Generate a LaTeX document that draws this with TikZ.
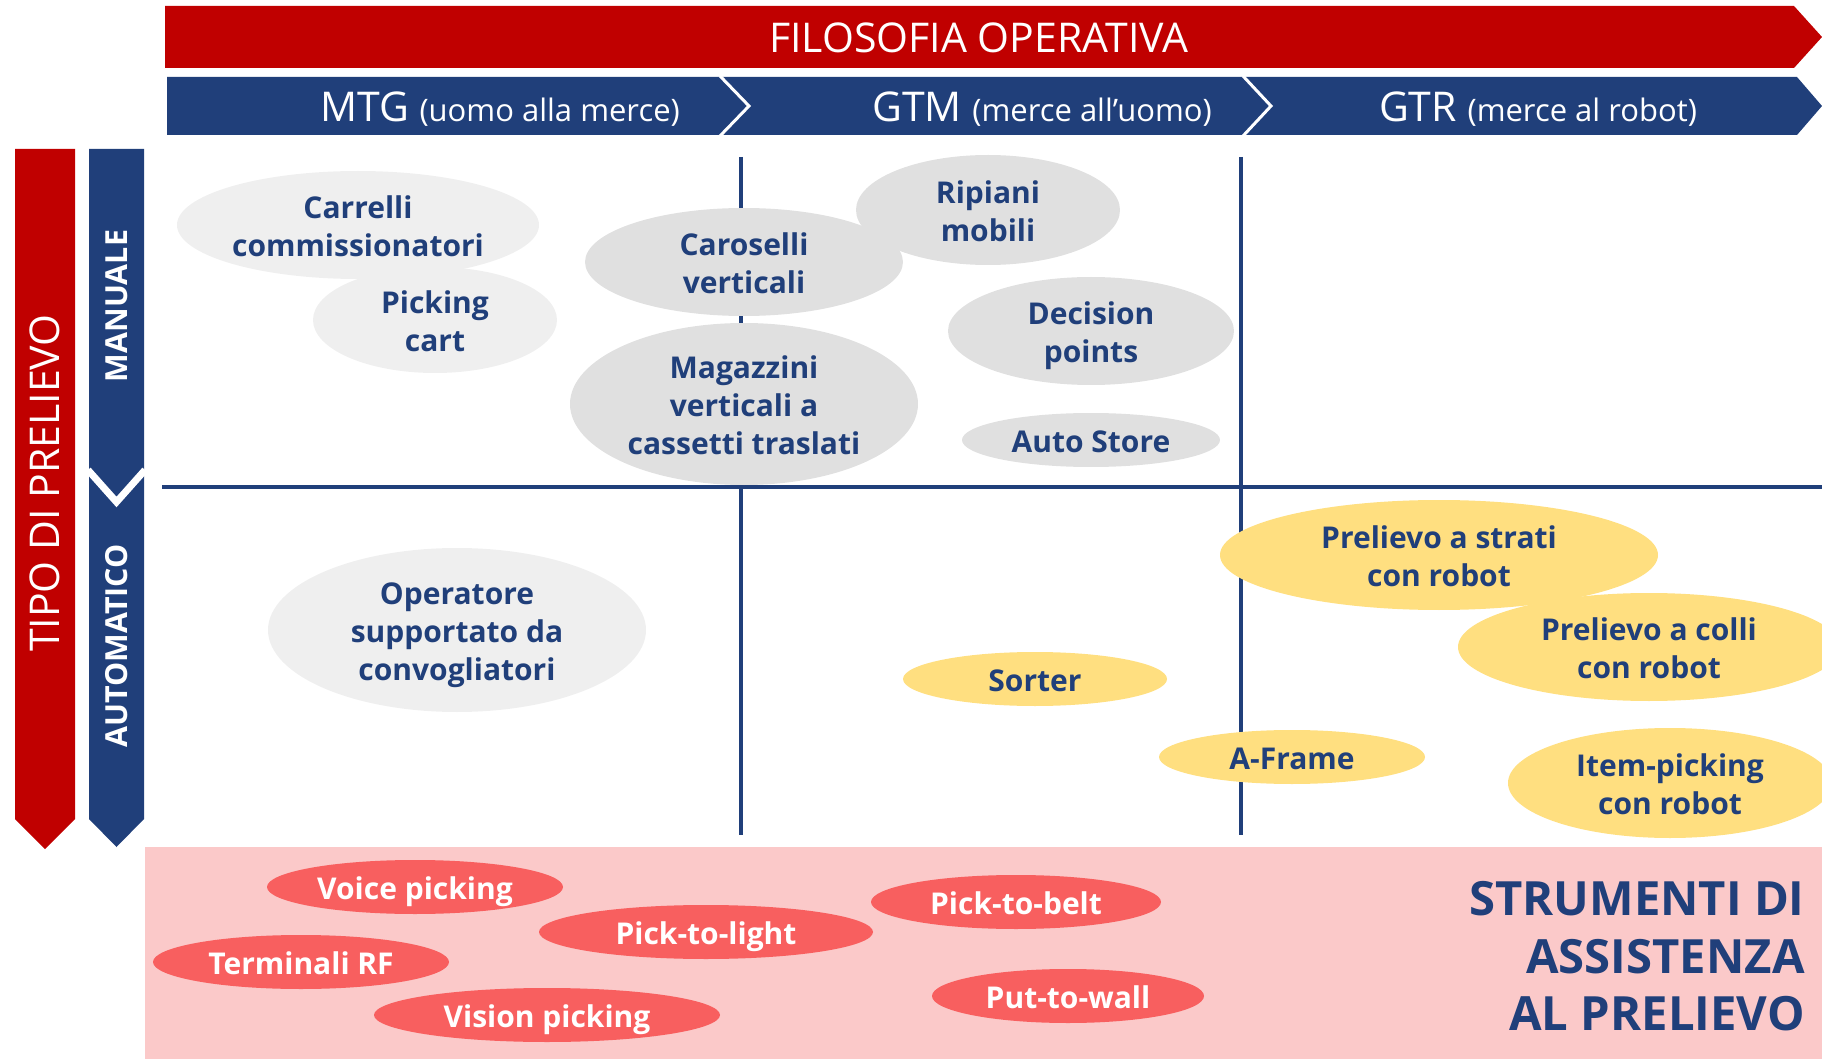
\documentclass[tikz,border=0pt]{standalone}
\usepackage{fontspec}
\setmainfont{Open Sans}
\usetikzlibrary{shapes.geometric}

\definecolor{navy}{HTML}{203F7A}
\definecolor{brick}{HTML}{C00000}
\definecolor{sand}{HTML}{FFDF80}
\definecolor{coral}{HTML}{F85F5F}
\definecolor{blush}{HTML}{FBC9C9}
\definecolor{paleA}{HTML}{EFEFEF}
\definecolor{paleB}{HTML}{E0E0E0}

\tikzset{
  blob/.style={ellipse, inner sep=0pt, draw=none},
  lgray/.style={blob, fill=paleA},
  mgray/.style={blob, fill=paleB},
  gold/.style={blob, fill=sand},
  tool/.style={blob, fill=coral},
  itemtext/.style={text=navy, font=\fontsize{15}{19}\selectfont\bfseries, align=center, inner sep=0pt, yshift=-2.5pt},
  tooltext/.style={itemtext, text=white},
  headtext/.style={text=white, font=\fontsize{20.5}{24}\selectfont, inner sep=0pt, anchor=base},
  sidetext/.style={text=white, font=\fontsize{15.2}{18}\selectfont\bfseries, inner sep=0pt, anchor=base, rotate=90},
  bigtext/.style={text=navy, font=\fontsize{23.6}{28}\selectfont\bfseries, inner sep=0pt, anchor=base east},
  gridline/.style={navy, line width=1.75pt},
  splitline/.style={white, line width=#1, line join=miter},
}

% ellipse with its caption: shape style, text style, name, x, y, rx, ry, text
\newcommand{\blobnode}[8]{%
  \node[#1, minimum width=#6pt, minimum height=#7pt] (#3) at (#4,#5) {};
  \node[#2] (#3-label) at (#3.center) {\strut#8\strut};
}

\begin{document}
\begin{tikzpicture}[x=0.5pt, y=-0.5pt]
\useasboundingbox (0,0) rectangle (1822,1059);

% assistance tools band
\fill[blush] (145,847) rectangle (1822,1059);

% operating philosophy arrow
\fill[brick] (165,6) -- (1794,6) -- (1822,37) -- (1794,68) -- (165,68) -- cycle;
\node[headtext] (filo) at (979,53) {FILOSOFIA OPERATIVA};

% three-step process band
\fill[navy] (167,77) -- (1797,77) -- (1822,106) -- (1797,135) -- (167,135) -- cycle;
\draw[splitline=1.5pt] (720,76) -- (749,106) -- (720,136);
\draw[splitline=1.5pt] (1243,76) -- (1271,106) -- (1243,136);
\node[headtext] (mtg) at (500,122) {MTG {\fontsize{15.5}{18}\selectfont (uomo alla merce)}};
\node[headtext] (gtm) at (1042,122) {GTM {\fontsize{15.5}{18}\selectfont (merce all’uomo)}};
\node[headtext] (gtr) at (1538,122) {GTR {\fontsize{15.5}{18}\selectfont (merce al robot)}};

% picking type bar
\fill[brick] (15,149) -- (75,149) -- (75,819) -- (45,849) -- (15,819) -- cycle;
\node[headtext, rotate=90] (tipo) at (60,483) {TIPO DI PRELIEVO};

% manual / automatic bar
\fill[navy] (89,149) -- (144,149) -- (144,819) -- (116.5,847) -- (89,819) -- cycle;
\draw[splitline=3.5pt] (88,470) -- (116.5,502) -- (145,470);
\node[sidetext] (manuale) at (127,306) {MANUALE};
\node[sidetext] (auto) at (127,646) {AUTOMATICO};

% grid
\draw[gridline, line width=2pt] (162,487) -- (1822,487);
\draw[gridline] (741,157) -- (741,835);
\draw[gridline] (1241,157) -- (1241,835);

% manual systems
\blobnode{lgray}{itemtext}{carrelli}{358}{225}{181}{54}{Carrelli\\commissionatori}
\blobnode{lgray}{itemtext}{cart}{435}{320}{122}{53}{Picking\\cart}
\blobnode{mgray}{itemtext}{ripiani}{988}{210}{132}{55}{Ripiani\\mobili}
\blobnode{mgray}{itemtext}{caroselli}{744}{262}{159}{54}{Caroselli\\verticali}
\blobnode{mgray}{itemtext}{magazzini}{744}{404}{174}{81}{Magazzini\\verticali a\\cassetti traslati}
\blobnode{mgray}{itemtext}{decision}{1091}{331}{143}{54}{Decision\\points}
\blobnode{mgray}{itemtext}{autostore}{1091}{440}{129}{27}{Auto Store}

% automatic systems
\blobnode{lgray}{itemtext}{operatore}{457}{630}{189}{82}{Operatore\\supportato da\\convogliatori}
\blobnode{gold}{itemtext}{colli}{1649}{647}{191}{54}{Prelievo a colli\\con robot}
\blobnode{gold}{itemtext}{strati}{1439}{555}{219}{55}{Prelievo a strati\\con robot}
\blobnode{gold}{itemtext}{sorter}{1035}{679}{132}{27}{Sorter}
\blobnode{gold}{itemtext}{aframe}{1292}{757}{133}{27}{A-Frame}
\blobnode{gold}{itemtext}{itempick}{1670}{783}{162}{55}{Item-picking\\con robot}

% assistance tools
\blobnode{tool}{tooltext}{voice}{415}{887}{148}{27}{Voice picking}
\blobnode{tool}{tooltext}{light}{706}{932}{167}{27}{Pick-to-light}
\blobnode{tool}{tooltext}{rf}{301}{962}{148}{27}{Terminali RF}
\blobnode{tool}{tooltext}{vision}{547}{1015}{173}{27}{Vision picking}
\blobnode{tool}{tooltext}{belt}{1016}{902}{145}{27}{Pick-to-belt}
\blobnode{tool}{tooltext}{wall}{1068}{996}{136}{27}{Put-to-wall}

\node[bigtext] (strum1) at (1805,915) {STRUMENTI DI};
\node[bigtext] (strum2) at (1805,973) {ASSISTENZA};
\node[bigtext] (strum3) at (1805,1030) {AL PRELIEVO};
\end{tikzpicture}
\end{document}
